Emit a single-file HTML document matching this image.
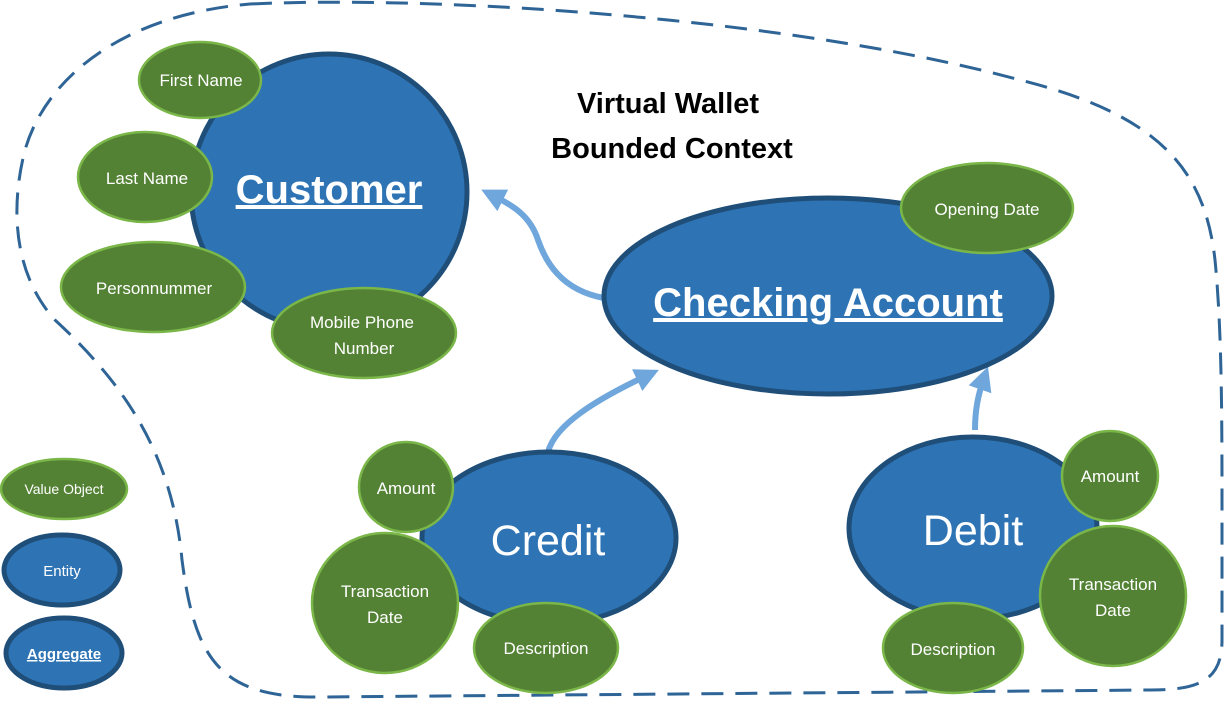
<!DOCTYPE html>
<html><head><meta charset="utf-8"><style>
html,body{margin:0;padding:0;background:#fff}
svg{display:block}
text{font-family:"Liberation Sans",sans-serif;fill:#fff;text-anchor:middle}
</style></head><body>
<svg width="1228" height="702" viewBox="0 0 1228 702" xmlns="http://www.w3.org/2000/svg">
<defs>
<marker id="ah" markerWidth="4" markerHeight="4" refX="2" refY="2" orient="auto" markerUnits="strokeWidth">
<path d="M0,0 L4,2 L0,4 Z" fill="#6fa6dc"/>
</marker>
</defs>
<path d="M250,4 C450,-5 800,20 1020,80 C1160,115 1205,170 1215,260 C1222,330 1222,420 1222,520 L1222,640 C1222,680 1200,690 1150,690 L320,697 C220,698 195,660 182,560 C172,450 120,380 55,320 C10,270 12,200 25,150 C45,80 120,15 250,4 Z" fill="none" stroke="#2e6496" stroke-width="3" stroke-dasharray="22,12"/>

<text x="668" y="113" font-size="29" font-weight="bold" style="fill:#000">Virtual Wallet</text>
<text x="672" y="158" font-size="29" font-weight="bold" style="fill:#000">Bounded Context</text>

<!-- arrows -->
<path d="M604,298 C560,290 545,260 538,240 C530,215 512,205 492,195" fill="none" stroke="#6fa6dc" stroke-width="6" marker-end="url(#ah)"/>
<path d="M548,452 C555,425 595,400 648,375" fill="none" stroke="#6fa6dc" stroke-width="6" marker-end="url(#ah)"/>
<path d="M975,430 C975,410 978,395 984,378" fill="none" stroke="#6fa6dc" stroke-width="6" marker-end="url(#ah)"/>

<g fill="#2e74b5" stroke="#1f4e79" stroke-width="5">
<circle cx="329" cy="192" r="138"/>
<ellipse cx="828" cy="296" rx="224" ry="98"/>
<ellipse cx="549" cy="538" rx="127" ry="86"/>
<ellipse cx="973" cy="528" rx="124" ry="91"/>
<ellipse cx="62" cy="570" rx="58" ry="35"/>
<ellipse cx="64" cy="653" rx="58" ry="35"/>
</g>

<g fill="#548235" stroke="#7ab648" stroke-width="2.5">
<ellipse cx="200" cy="80" rx="61" ry="38"/>
<ellipse cx="145" cy="177" rx="67" ry="45"/>
<ellipse cx="153" cy="287" rx="92" ry="45"/>
<ellipse cx="364" cy="333" rx="92" ry="45"/>
<ellipse cx="987" cy="208" rx="86" ry="45"/>
<ellipse cx="406" cy="487" rx="47" ry="45"/>
<ellipse cx="385" cy="603" rx="73" ry="70"/>
<ellipse cx="546" cy="648" rx="72" ry="45"/>
<ellipse cx="1110" cy="476" rx="48" ry="45"/>
<ellipse cx="1113" cy="596" rx="73" ry="70"/>
<ellipse cx="953" cy="648" rx="70" ry="45"/>
<ellipse cx="64" cy="489" rx="63" ry="30"/>
</g>

<text x="329" y="203" font-size="40" font-weight="bold" text-decoration="underline">Customer</text>
<text x="828" y="316" font-size="40" font-weight="bold" text-decoration="underline">Checking Account</text>
<text x="548" y="555" font-size="43">Credit</text>
<text x="973" y="545" font-size="43">Debit</text>

<g font-size="17">
<text x="201" y="86">First Name</text>
<text x="147" y="184">Last Name</text>
<text x="154" y="294">Personnummer</text>
<text x="362" y="328">Mobile Phone</text>
<text x="364" y="354">Number</text>
<text x="987" y="215">Opening Date</text>
<text x="406" y="494">Amount</text>
<text x="385" y="597">Transaction</text>
<text x="385" y="623">Date</text>
<text x="546" y="654">Description</text>
<text x="1110" y="482">Amount</text>
<text x="1113" y="590">Transaction</text>
<text x="1113" y="616">Date</text>
<text x="953" y="655">Description</text>
</g>
<text x="64" y="494" font-size="14">Value Object</text>
<text x="62" y="576" font-size="15">Entity</text>
<text x="64" y="659" font-size="15" font-weight="bold" text-decoration="underline">Aggregate</text>
</svg>
</body></html>
